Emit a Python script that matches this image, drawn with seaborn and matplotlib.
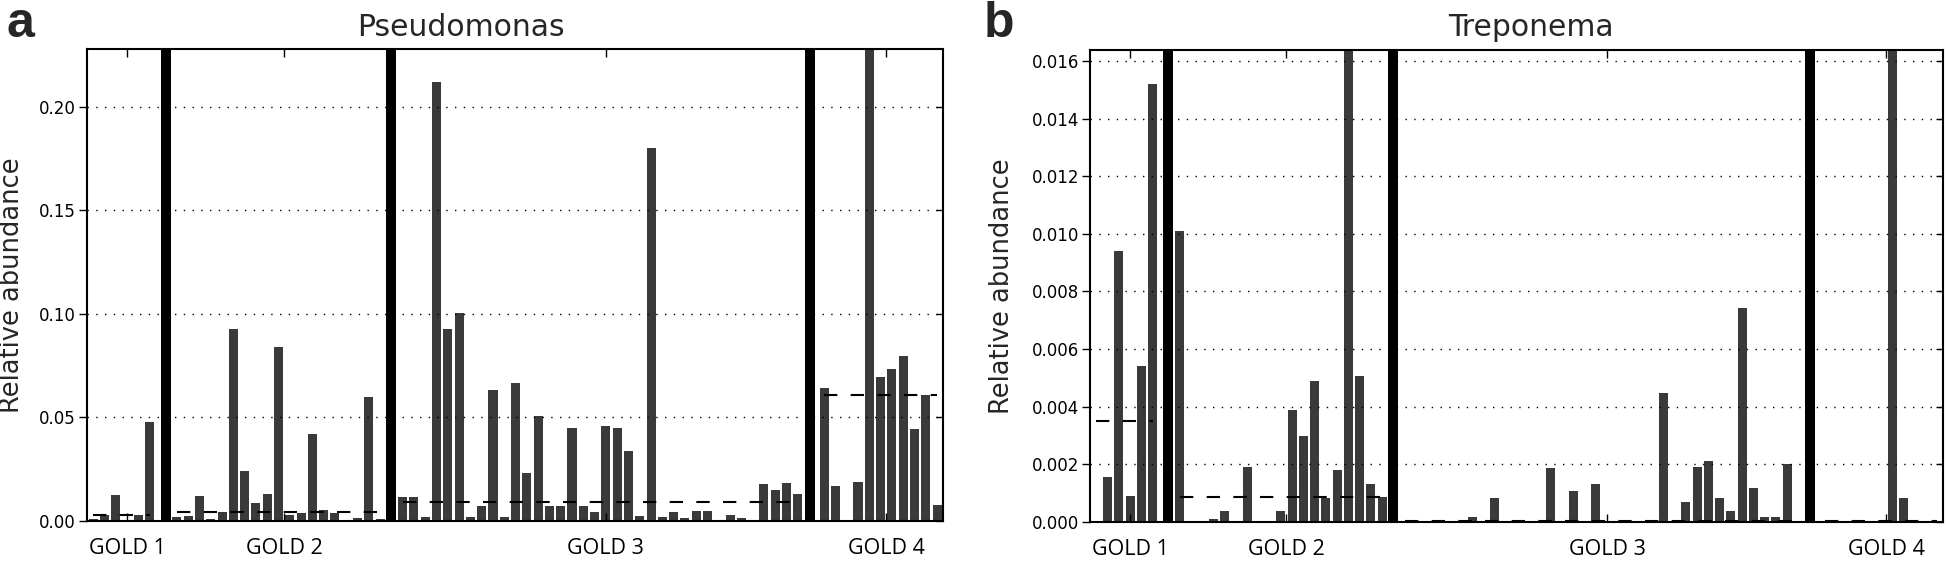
import numpy as np
import pandas as pd
import matplotlib
matplotlib.use("Agg")
import matplotlib.pyplot as plt
import seaborn as sns

# ---------------- data ----------------
group_labels = ["GOLD 1", "GOLD 2", "GOLD 3", "GOLD 4"]

pseudo_g1 = [0.0010, 0.0027, 0.0124, 0.0005, 0.0027, 0.0477]
pseudo_g2 = [0.0018, 0.0024, 0.0122, 0.0008, 0.0042, 0.0929, 0.0242, 0.0088, 0.0129,
             0.0842, 0.0029, 0.0037, 0.0419, 0.0053, 0.0037, 0.0, 0.0013, 0.0600, 0.0008]
pseudo_g3 = [0.0117, 0.0117, 0.0021, 0.2120, 0.0926, 0.1006, 0.0018, 0.0072, 0.0631,
             0.0018, 0.0668, 0.0230, 0.0509, 0.0072, 0.0072, 0.0448, 0.0072, 0.0042,
             0.0457, 0.0448, 0.0338, 0.0024, 0.1800, 0.0018, 0.0045, 0.0013, 0.0050,
             0.0050, 0.0, 0.0030, 0.0013, 0.0, 0.0179, 0.0150, 0.0182, 0.0129]
pseudo_g4 = [0.0641, 0.0169, 0.0005, 0.0190, 0.2600, 0.0697, 0.0733, 0.0797, 0.0443,
             0.0609, 0.0077]
pseudo_medians = [0.0028, 0.0042, 0.0094, 0.0611]

trep_g1 = [0.0, 0.00155, 0.0094, 0.00089, 0.00542, 0.01519]
trep_g2 = [0.0101, 0.0, 0.0, 0.0001, 0.00039, 0.0, 0.00191, 0.0, 0.0, 0.00039, 0.00387,
           0.0030, 0.0049, 0.00082, 0.0018, 0.0200, 0.00507, 0.00133, 0.00087]
trep_g3 = [0.0, 0.0, 0.0, 0.0, 0.0, 0.0, 0.00019, 0.0, 0.00085, 0.0, 0.0, 0.0, 0.0,
           0.00187, 0.0, 0.00108, 0.0, 0.00133, 0.0, 0.0, 0.0, 0.0, 0.0, 0.00446, 0.0,
           0.00071, 0.00191, 0.00213, 0.00082, 0.00039, 0.00741, 0.00118, 0.00019,
           0.00016, 0.00202, 0.0]
trep_g4 = [0.0, 0.0, 0.0, 0.0, 0.0, 0.0, 0.0300, 0.00082, 0.0, 0.0, 0.0]
trep_medians = [0.0035, 0.00087, 0.00005, 0.00004]

pseudo_yticks = [0.00, 0.05, 0.10, 0.15, 0.20]
trep_yticks = [0.000, 0.002, 0.004, 0.006, 0.008, 0.010, 0.012, 0.014, 0.016]

# ---------------- layout helpers ----------------
GAP_PRE = [1.4, 1.0, 1.05]    # last bar of a group -> separator
GAP_POST = [1.0, 1.0, 1.28]   # separator -> first bar of next group


def layout(groups):
    positions, seps = [], []
    start = 0.0
    for k, vals in enumerate(groups):
        pos = start + np.arange(len(vals), dtype=float)
        positions.append(pos)
        if k < len(groups) - 1:
            sep = pos[-1] + GAP_PRE[k]
            seps.append(sep)
            start = sep + GAP_POST[k]
    return positions, seps


BAR_COLOR = "#3a3a3a"
GOLD_FONT = ["Open Sans", "DejaVu Sans"]

sns.set_style("white")
plt.rcParams["font.family"] = ["DejaVu Sans"]

fig = plt.figure(figsize=(19.46, 5.63), dpi=100)
W, H = 1946.0, 563.0


def draw_panel(rect, groups, medians, ylim_top, yticks, fmt, title, title_x,
               letter, letter_x, ylabel_x):
    ax = fig.add_axes(rect)
    positions, seps = layout(groups)
    df = pd.DataFrame({
        "pos": np.concatenate(positions),
        "val": np.concatenate([np.asarray(g, float) for g in groups]),
    })
    sns.barplot(data=df, x="pos", y="val", native_scale=True, width=0.8,
                color=BAR_COLOR, saturation=1, errorbar=None, linewidth=0,
                ax=ax, zorder=2)
    for s in seps:
        ax.axvline(s, color="black", lw=7.2, zorder=3)
    for pos, med in zip(positions, medians):
        ax.hlines(med, pos[0], pos[-1], colors="black", lw=1.5,
                  linestyles=[(0, (6.4, 6.4))], zorder=4)

    xmin = positions[0][0] - 0.56
    xmax = positions[-1][-1] + 0.53
    ax.set_xlim(xmin, xmax)
    ax.set_ylim(0, ylim_top)

    ticks = [p.mean() + 0.5 for p in positions]
    ax.set_xticks(ticks)
    ax.set_xticklabels(group_labels, fontsize=15.5, family=GOLD_FONT)
    ax.tick_params(axis="x", direction="in", length=6, width=1, top=True,
                   bottom=True, pad=12, colors="black")
    ax.set_yticks(yticks)
    ax.set_yticklabels([fmt.format(v) for v in yticks], fontsize=12)
    ax.tick_params(axis="y", direction="out", length=6, width=1, left=True,
                   right=False, pad=2, colors="black")
    ax.set_xlabel("")
    ax.set_ylabel("Relative abundance", fontsize=18.5)
    ax.yaxis.set_label_coords(ylabel_x, 0.5)

    ax.yaxis.grid(True, linestyle=(0, (1.0, 5.3)), color="black", lw=1.0)
    ax.xaxis.grid(False)
    ax.set_axisbelow(False)
    for sp in ax.spines.values():
        sp.set_visible(True)
        sp.set_color("black")
        sp.set_linewidth(1.5)
        sp.set_zorder(5)

    axr = ax.twinx()
    axr.set_ylim(ax.get_ylim())
    axr.set_yticks(yticks)
    axr.tick_params(axis="y", direction="in", length=5, width=1,
                    labelright=False, colors="black")
    axr.grid(False)
    for sp in axr.spines.values():
        sp.set_visible(False)

    fig.text(title_x, 1 - 28 / H, title, fontsize=21.5, ha="center", va="center")
    fig.text(letter_x, 1 - 37 / H, letter, fontsize=36, fontweight="bold",
             family=["Liberation Sans", "DejaVu Sans"], ha="left", va="baseline")
    return ax


draw_panel([87 / W, 1 - 521 / H, 856 / W, 472 / H],
           [pseudo_g1, pseudo_g2, pseudo_g3, pseudo_g4], pseudo_medians,
           0.228, pseudo_yticks, "{:.2f}", "Pseudomonas", 461 / W,
           "a", 6 / W, -0.072)
draw_panel([1090 / W, 1 - 522 / H, 853 / W, 472 / H],
           [trep_g1, trep_g2, trep_g3, trep_g4], trep_medians,
           0.01638, trep_yticks, "{:.3f}", "Treponema", 1531 / W,
           "b", 984 / W, -0.088)

fig.savefig("out.png", dpi=100)
